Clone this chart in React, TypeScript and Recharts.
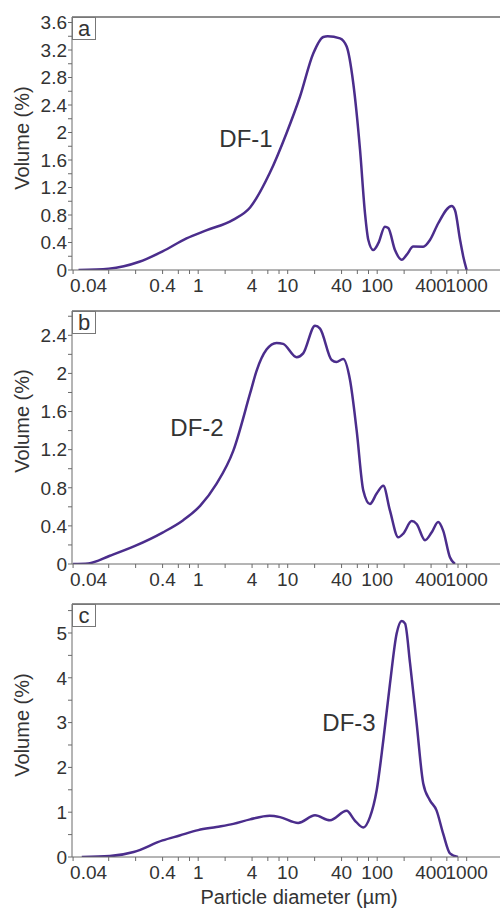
import { LineChart, Line, XAxis, YAxis, ReferenceLine } from 'recharts';

// particle size (µm) and volume (%)
const sizeA = [0.046, 0.1, 0.22, 0.4, 0.74, 1.25, 2.45, 3.8, 6.3, 9.7, 13.7, 19.3, 25, 28, 38.4, 45.6, 54, 64.3, 73, 79.5, 90.5, 103, 122, 133, 158, 188, 213, 253, 327, 390, 481, 680, 740, 843, 918, 1000];
const volA = [0, 0.02, 0.12, 0.27, 0.46, 0.58, 0.73, 0.91, 1.41, 1.99, 2.52, 3.15, 3.39, 3.4, 3.37, 3.25, 2.72, 1.75, 0.83, 0.44, 0.29, 0.39, 0.63, 0.61, 0.29, 0.15, 0.22, 0.34, 0.34, 0.44, 0.68, 0.93, 0.87, 0.44, 0.19, 0];

const sizeB = [0.04, 0.059, 0.103, 0.197, 0.4, 0.68, 1.05, 1.6, 2.47, 3.8, 4.5, 5.8, 7.5, 8.9, 12.6, 14.9, 20.2, 23, 31, 35, 41.7, 49.7, 59, 70, 83, 98.7, 117, 139, 172, 196, 243, 276, 342, 405, 480, 546, 650, 740];
const volB = [0, 0.006, 0.087, 0.19, 0.33, 0.46, 0.61, 0.84, 1.19, 1.79, 2.03, 2.25, 2.32, 2.31, 2.17, 2.21, 2.5, 2.47, 2.14, 2.12, 2.15, 1.93, 1.4, 0.77, 0.63, 0.74, 0.82, 0.56, 0.28, 0.32, 0.45, 0.42, 0.25, 0.33, 0.44, 0.35, 0.07, 0];

const sizeC = [0.05, 0.103, 0.19, 0.4, 0.62, 1, 1.6, 2.47, 3.8, 6.3, 8.2, 13.1, 20.2, 29.7, 45.6, 56, 70, 83, 98.7, 117, 139, 165, 188, 205, 233, 276, 327, 387, 460, 546, 650, 800];
const volC = [0, 0.02, 0.11, 0.37, 0.48, 0.6, 0.67, 0.74, 0.84, 0.92, 0.89, 0.76, 0.93, 0.82, 1.03, 0.82, 0.66, 0.89, 1.49, 2.6, 3.87, 4.99, 5.27, 5.21, 4.32, 2.98, 1.64, 1.27, 1.04, 0.52, 0.08, 0];

const xTicks = [0.04, 0.1, 0.2, 0.4, 0.6, 0.8, 1, 2, 4, 6, 8, 10, 20, 40, 60, 80, 100, 200, 400, 600, 800, 1000];
const xLabels = [0.04, 0.4, 1, 4, 10, 40, 100, 400, 1000];

const yTicksA = [0, 0.2, 0.4, 0.6, 0.8, 1, 1.2, 1.4, 1.6, 1.8, 2, 2.2, 2.4, 2.6, 2.8, 3, 3.2, 3.4, 3.6];
const yTicksB = [0, 0.2, 0.4, 0.6, 0.8, 1, 1.2, 1.4, 1.6, 1.8, 2, 2.2, 2.4, 2.6];
const yTicksC = [0, 0.5, 1, 1.5, 2, 2.5, 3, 3.5, 4, 4.5, 5, 5.5];

const FONT = '"Liberation Sans", Arial, sans-serif';
const INK = '#333';
const AXIS = '#6a6a6a';
const LINE = '#4b2d8c';
const X_DOMAIN = [0.0389, 4600];

const zip = (xs: number[], ys: number[]) => xs.map((size, i) => ({ size, vol: ys[i] }));

function XTick({ x, y, payload }: any) {
  const v = payload.value;
  if (!xLabels.includes(v)) return <g />;
  const first = v === xLabels[0];
  return (
    <text x={first ? x - 3 : x} y={y} dy="0.71em" textAnchor={first ? 'start' : 'middle'} fontSize={19} fill={INK} fontFamily={FONT}>
      {v}
    </text>
  );
}

function makeYTick(step: number) {
  return ({ x, y, payload }: any) => {
    const v = payload.value;
    const r = v / step;
    if (Math.abs(r - Math.round(r)) > 1e-6) return <g />;
    return (
      <text x={x} y={y} dy="0.36em" textAnchor="end" fontSize={19} fill={INK} fontFamily={FONT}>
        {String(Math.round(v * 10) / 10)}
      </text>
    );
  };
}

type PanelProps = {
  data: { size: number; vol: number }[];
  top: number;
  marginTop: number;
  yMax: number;
  yTicks: number[];
  step: number;
};

function Panel({ data, top, marginTop, yMax, yTicks, step }: PanelProps) {
  return (
    <div style={{ position: 'absolute', left: 0, top }}>
      <LineChart width={540} height={marginTop + 253 + 30} data={data} margin={{ top: marginTop, right: 14, bottom: 0, left: 0 }}>
        <XAxis
          dataKey="size"
          type="number"
          scale="log"
          domain={X_DOMAIN}
          allowDataOverflow
          ticks={xTicks}
          interval={0}
          tick={XTick}
          tickSize={4}
          tickMargin={5}
          height={30}
          stroke={AXIS}
        />
        <YAxis
          type="number"
          domain={[0, yMax]}
          allowDataOverflow
          ticks={yTicks}
          interval={0}
          tick={makeYTick(step)}
          tickSize={4}
          tickMargin={1}
          width={72}
          stroke={AXIS}
        />
        <ReferenceLine y={yMax} stroke={AXIS} strokeWidth={1.5} />
        <Line type="monotone" dataKey="vol" stroke={LINE} strokeWidth={2.5} dot={false} isAnimationActive={false} />
      </LineChart>
    </div>
  );
}

const textBase = { position: 'absolute' as const, fontFamily: FONT, color: INK, lineHeight: 1, whiteSpace: 'nowrap' as const };

function Tag({ x, y, children }: { x: number; y: number; children: string }) {
  return (
    <div
      style={{
        position: 'absolute', left: x, top: y, width: 22, height: 21, border: '1.5px solid #777',
        fontFamily: FONT, fontSize: 22, color: INK, display: 'flex', alignItems: 'center', justifyContent: 'center', lineHeight: 1,
      }}
    >
      {children}
    </div>
  );
}

function Text({ x, y, size, children, rotate }: { x: number; y: number; size: number; children: string; rotate?: boolean }) {
  return (
    <div style={{ ...textBase, left: x, top: y, fontSize: size, transform: `translate(-50%, -50%)${rotate ? ' rotate(-90deg)' : ''}` }}>
      {children}
    </div>
  );
}

export default function App() {
  return (
    <div style={{ position: 'fixed', left: 0, top: 0, width: 500, height: 908, overflow: 'hidden', background: '#fff' }}>
      <Panel data={zip(sizeA, volA)} top={0} marginTop={17} yMax={3.68} yTicks={yTicksA} step={0.4} />
      <Panel data={zip(sizeB, volB)} top={290} marginTop={21} yMax={2.655} yTicks={yTicksB} step={0.4} />
      <Panel data={zip(sizeC, volC)} top={590} marginTop={14} yMax={5.647} yTicks={yTicksC} step={1} />

      <Tag x={72} y={17}>a</Tag>
      <Tag x={72} y={311}>b</Tag>
      <Tag x={72} y={604}>c</Tag>

      <Text x={246} y={139} size={24}>DF-1</Text>
      <Text x={197} y={428} size={24}>DF-2</Text>
      <Text x={349} y={723} size={24}>DF-3</Text>

      <Text x={22} y={138} size={20} rotate>Volume (%)</Text>
      <Text x={22} y={421} size={20} rotate>Volume (%)</Text>
      <Text x={22} y={725} size={20} rotate>Volume (%)</Text>
      <Text x={299} y={897} size={20}>Particle diameter (µm)</Text>
    </div>
  );
}
